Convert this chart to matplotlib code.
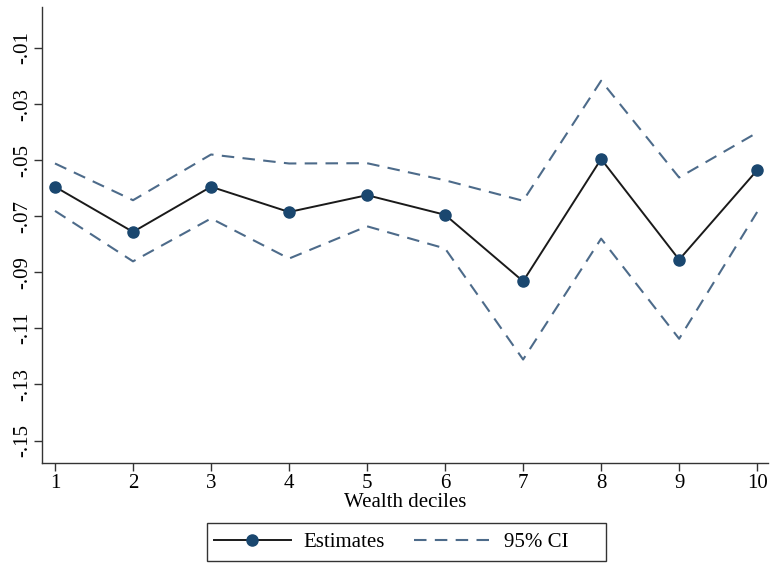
import matplotlib
matplotlib.use("Agg")
import matplotlib.pyplot as plt
from matplotlib.lines import Line2D
from matplotlib.patches import Rectangle

plt.rcParams['font.family'] = ['Liberation Serif', 'DejaVu Serif']

deciles = [1, 2, 3, 4, 5, 6, 7, 8, 9, 10]
estimates = [-0.0595, -0.0756, -0.0595, -0.0685, -0.0625, -0.0695, -0.0932, -0.0496, -0.0855, -0.0536]
ci_upper = [-0.0512, -0.0643, -0.0480, -0.0512, -0.0511, -0.0572, -0.0645, -0.0217, -0.0562, -0.0402]
ci_lower = [-0.0681, -0.0861, -0.0708, -0.0851, -0.0736, -0.0815, -0.1211, -0.0780, -0.1137, -0.0685]
y_ticks = [-0.01, -0.03, -0.05, -0.07, -0.09, -0.11, -0.13, -0.15]
y_tick_labels = ["-.01", "-.03", "-.05", "-.07", "-.09", "-.11", "-.13", "-.15"]

navy = "#1a476f"
ci_color = "#4d6b8a"

W, H = 770, 563
fig = plt.figure(figsize=(W / 100, H / 100), dpi=100)
ax = fig.add_axes([0.0545, 0.1776, 0.943, 0.81])

ax.plot(deciles, ci_upper, color=ci_color, lw=1.5, dashes=(6, 4))
ax.plot(deciles, ci_lower, color=ci_color, lw=1.5, dashes=(6, 4))
ax.plot(deciles, estimates, color="#1a1a1a", lw=1.4, marker="o",
        markersize=8, markerfacecolor=navy, markeredgecolor=navy, zorder=3)

ax.set_xlim(0.833, 10.14)
ax.set_ylim(-0.158, 0.0046)
ax.set_xticks(deciles)
ax.set_xticklabels([str(d) for d in deciles], fontsize=15)
ax.set_yticks(y_ticks)
ax.set_yticklabels(y_tick_labels, fontsize=15, rotation=90, va="center")
ax.tick_params(axis="both", direction="out", length=6, width=1, color="#333333")
ax.tick_params(axis="y", pad=1)
ax.tick_params(axis="x", pad=2)
ax.spines["top"].set_visible(False)
ax.spines["right"].set_visible(False)
for s in ("left", "bottom"):
    ax.spines[s].set_color("#333333")
    ax.spines[s].set_linewidth(1)

ax.set_xlabel("Wealth deciles", fontsize=15, labelpad=0)

handles = [
    Line2D([], [], color="#1a1a1a", lw=1.4, marker="o", markersize=8,
           markerfacecolor=navy, markeredgecolor=navy),
    Line2D([], [], color=ci_color, lw=1.5, dashes=(6, 4)),
]
leg = fig.legend(handles, ["Estimates", "95% CI"], loc="center",
                 bbox_to_anchor=(391 / W, 1 - 542 / H), ncol=2, fontsize=15,
                 frameon=False, handlelength=3.7, handletextpad=0.6,
                 columnspacing=1.4, borderpad=0)

# legend box (Stata-style, extra room on the right)
fig.patches.append(Rectangle((207 / W, 1 - 561 / H), 399 / W, 38 / H,
                             transform=fig.transFigure, fill=False,
                             edgecolor="#333333", linewidth=1))

fig.savefig("out.png", dpi=100)
